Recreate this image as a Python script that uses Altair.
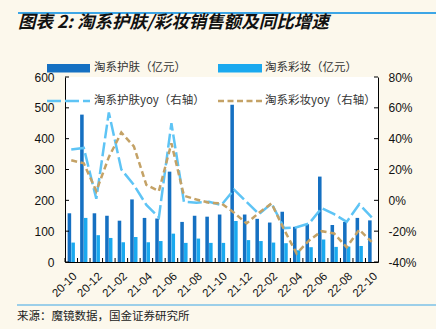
import altair as alt
import pandas as pd

# ---------------- data ----------------
months = ["20-10", "20-11", "20-12", "21-01", "21-02", "21-03", "21-04", "21-05",
          "21-06", "21-07", "21-08", "21-09", "21-10", "21-11", "21-12", "22-01",
          "22-02", "22-03", "22-04", "22-05", "22-06", "22-07", "22-08", "22-09", "22-10"]
skin_sales = [158, 478, 158, 150, 134, 203, 143, 141, 293, 130, 150, 147, 154, 510,
              154, 140, 128, 163, 114, 123, 277, 120, 130, 143, 135]
cosm_sales = [63, 143, 87, 78, 64, 81, 64, 68, 92, 62, 76, 62, 62, 133,
              71, 68, 63, 61, 38, 48, 73, 49, 50, 52, None]
skin_yoy = [33, 34, 1, 57, 20, 10, -3, -11, 50, -1, -1.5, -1, -3, 7,
            -1, -9, -2, -18, -17.5, -15, -5, -9, -14, -2.5, -11]
cosm_yoy = [26, 24, 6, 28, 44, 35, 10, 6, 37, 3, 0.5, -1.5, -2, -8,
            -15, -8, -2, -19, -34.5, -26, -20, -21.5, -30.5, -19, -27]
left_ticks = [0, 100, 200, 300, 400, 500, 600]
right_ticks = [-40, -20, 0, 20, 40, 60, 80]
x_labels = months[::2]
bar_series = ["淘系护肤（亿元）", "淘系彩妆（亿元）"]
line_series = ["淘系护肤yoy（右轴）", "淘系彩妆yoy（右轴）"]
title_text = "图表 2:  淘系护肤/彩妆销售额及同比增速"
source_text = "来源：魔镜数据，国金证券研究所"

# ---------------- styles ----------------
DARK = "#1570C2"
LIGHT = "#1AA9EF"
SKIN_LINE = "#5EC4F5"
TAN = "#C4A266"
RULE_BLUE = "#3DA6E6"
CJK = "Noto Sans CJK SC"
LAT = "Liberation Sans"
W, H = 313, 185

rows = []
for m, a, b in zip(months, skin_sales, cosm_sales):
    rows.append({"month": m, "series": bar_series[0], "value": a})
    if b is not None:
        rows.append({"month": m, "series": bar_series[1], "value": b})
bars_df = pd.DataFrame(rows)
yoy_df = pd.DataFrame({"month": months, "skin_yoy": skin_yoy, "cosm_yoy": cosm_yoy})
ONE = pd.DataFrame({"a": [1]})

xscale = alt.Scale(domain=months, paddingInner=0, paddingOuter=0)
lscale = alt.Scale(domain=[0, 600], nice=False, zero=True)
rscale = alt.Scale(domain=[-40, 80], nice=False, zero=False)

x_axis = alt.Axis(values=x_labels, labelAngle=-45, ticks=False, grid=False,
                  labelFont=LAT, labelFontSize=11.5, labelColor="#111",
                  labelPadding=8, title=None, domainColor="black",
                  labelAlign="right", labelBaseline="top")
l_axis = alt.Axis(values=left_ticks, ticks=False, grid=False, labelPadding=11,
                  labelFont=LAT, labelFontSize=12, labelColor="#111",
                  domainColor="black", title=None)
r_axis = alt.Axis(orient="right", values=right_ticks, ticks=False, grid=False,
                  labelExpr="datum.value + '%'", labelPadding=10,
                  labelFont=LAT, labelFontSize=12, labelColor="#111",
                  domainColor="black", title=None)

bars = alt.Chart(bars_df).mark_bar().encode(
    x=alt.X("month:N", scale=xscale, axis=x_axis),
    xOffset=alt.XOffset("series:N", scale=alt.Scale(domain=bar_series,
                                                    paddingInner=0.05, paddingOuter=0.7)),
    y=alt.Y("value:Q", scale=lscale, axis=l_axis),
    color=alt.Color("series:N", scale=alt.Scale(domain=bar_series, range=[DARK, LIGHT]),
                    legend=None),
)
left_tick_rules = alt.Chart(pd.DataFrame({"v": left_ticks})).mark_rule(color="black").encode(
    y=alt.Y("v:Q", scale=lscale, axis=l_axis), x=alt.value(0), x2=alt.value(4))
left_group = alt.layer(bars, left_tick_rules)

skin_line = alt.Chart(yoy_df).mark_line(color=SKIN_LINE, strokeWidth=2.5,
                                         strokeDash=[14, 4]).encode(
    x=alt.X("month:N", scale=xscale, axis=x_axis),
    y=alt.Y("skin_yoy:Q", scale=rscale, axis=r_axis),
)
cosm_line = alt.Chart(yoy_df).mark_line(color=TAN, strokeWidth=2.5,
                                         strokeDash=[6, 3.5]).encode(
    x=alt.X("month:N", scale=xscale, axis=x_axis),
    y=alt.Y("cosm_yoy:Q", scale=rscale, axis=r_axis),
)
right_tick_rules = alt.Chart(pd.DataFrame({"v": right_ticks})).mark_rule(color="black").encode(
    y=alt.Y("v:Q", scale=rscale, axis=r_axis), x=alt.value(W - 4), x2=alt.value(W))
right_group = alt.layer(skin_line, cosm_line, right_tick_rules)

bottom_ticks = alt.Chart(pd.DataFrame({"month": months})).mark_rule(color="black").encode(
    x=alt.X("month:N", scale=xscale, bandPosition=0, axis=x_axis),
    y=alt.value(H - 4), y2=alt.value(H))


def txt(s, x, y, size, font=CJK, baseline="middle", **kw):
    return alt.Chart(ONE).mark_text(text=s, align="left", baseline=baseline,
                                    fontSize=size, font=font, **kw).encode(
        x=alt.value(x), y=alt.value(y))


def rect(x1, x2, y1, y2, color):
    return alt.Chart(ONE).mark_rect(color=color).encode(
        x=alt.value(x1), x2=alt.value(x2), y=alt.value(y1), y2=alt.value(y2))


def hline(x1, x2, y, color, width, dash=None):
    kw = {"strokeDash": dash} if dash else {}
    return alt.Chart(ONE).mark_rule(color=color, strokeWidth=width, **kw).encode(
        x=alt.value(x1), x2=alt.value(x2), y=alt.value(y))


annotations = [
    hline(-47, 371, -64, RULE_BLUE, 2),
    txt(title_text, -47, -49, 17.5, baseline="alphabetic", fontWeight="bold",
        fontStyle="oblique", color="#111"),
    rect(-18, 25, -13, -4.5, DARK),
    txt(bar_series[0], 29, -9, 11.5, color="#333"),
    rect(153, 197, -13, -4.5, LIGHT),
    txt(bar_series[1], 200, -9, 11.5, color="#333"),
    hline(-18, 25, 24, SKIN_LINE, 2.5, [14, 4]),
    txt(line_series[0], 29, 24, 11.5, color="#333"),
    hline(153, 197, 24, TAN, 2.5, [6, 3.5]),
    txt(line_series[1], 200, 24, 11.5, color="#333"),
    hline(-48, 371, 228, RULE_BLUE, 1.2),
    txt(source_text, -48, 243, 11.5, baseline="alphabetic", color="#222"),
]

chart = alt.layer(left_group, right_group, bottom_ticks, *annotations).resolve_scale(
    y="independent"
).properties(
    width=W, height=H,
    autosize=alt.AutoSizeParams(type="none"),
    padding={"left": 65, "top": 77, "right": 58, "bottom": 67},
    background="#FCF8EC",
).configure_view(fill="white", stroke=None).configure_axis(domainWidth=1)

chart.save("out.html", embed_options={"renderer": "svg", "actions": False})
